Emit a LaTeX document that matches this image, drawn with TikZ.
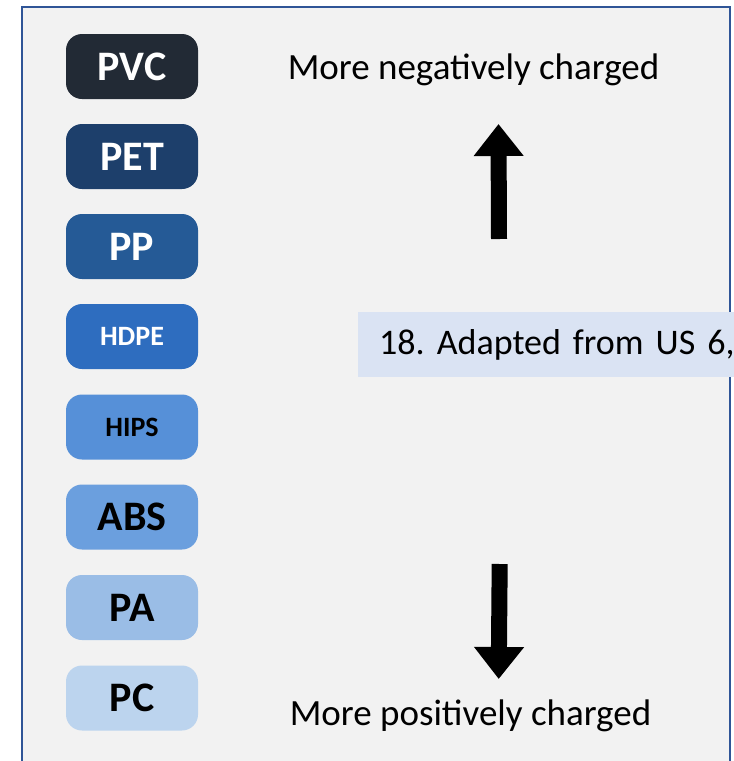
\documentclass[tikz,border=0pt]{standalone}
\usepackage{fontspec}
\setmainfont{Carlito}
\usepackage{xcolor}
\usetikzlibrary{positioning,arrows.meta}
\definecolor{framebg}{HTML}{F2F2F2}
\definecolor{frameline}{HTML}{2F5597}
\definecolor{notebg}{HTML}{DAE3F3}
\definecolor{cPVC}{HTML}{222A35}
\definecolor{cPET}{HTML}{1D3F6B}
\definecolor{cPP}{HTML}{255A96}
\definecolor{cHDPE}{HTML}{2E6DBF}
\definecolor{cHIPS}{HTML}{5690D8}
\definecolor{cABS}{HTML}{6B9FDE}
\definecolor{cPA}{HTML}{9ABDE6}
\definecolor{cPC}{HTML}{BCD4EE}
\tikzset{
  resin/.style={rectangle, rounded corners=16pt, minimum width=132pt, minimum height=65pt, inner sep=0pt, align=center, font=\bfseries\fontsize{42}{48}\selectfont},
  small/.style={font=\bfseries\fontsize{28}{32}\selectfont},
  caption/.style={inner sep=0pt, anchor=base, font=\fontsize{37}{44}\selectfont},
  note/.style={anchor=west, fill=notebg, minimum height=65pt, inner xsep=21pt, inner ysep=0pt, text width=450pt, align=left, font=\fontsize{36}{42}\selectfont\frenchspacing},
  line/.style={line width=16pt, -{Triangle[length=32pt, width=48pt]}}
}

\begin{document}
\begin{tikzpicture}[x=1pt, y=-1pt]
    \useasboundingbox (0,0) rectangle (734,761);
    \clip (0,0) rectangle (734,761);
    \draw[fill=framebg, draw=frameline, line width=2pt] (22,7) rectangle (729.5,790);

    \node[resin, fill=cPVC, text=white] (pvc) at (132,66.5) {PVC};
    \node[resin, fill=cPET, text=white] (pet) at (132,156.5) {PET};
    \node[resin, fill=cPP, text=white] (pp) at (132,246.5) {PP};
    \node[resin, small, fill=cHDPE, text=white] (hdpe) at (132,336.5) {HDPE};
    \node[resin, small, fill=cHIPS, text=black] (hips) at (132,427) {HIPS};
    \node[resin, fill=cABS, text=black] (abs) at (132,517) {ABS};
    \node[resin, fill=cPA, text=black] (pa) at (132,607.5) {PA};
    \node[resin, fill=cPC, text=black] (pc) at (132,698) {PC};

    \node[caption] (neg) at (473.5,79) {More negatively charged};
    \node[caption] (pos) at (470.5,725) {More positively charged};

    \node[note] (ref) at (358,344.5) {\mbox{18. Adapted from US 6,4}};

    \coordinate (uptail) at (499,239);
    \coordinate (uptip) at (498.5,124);
    \coordinate (downtail) at (499.7,564);
    \coordinate (downtip) at (498.7,679);

    \draw[line] (uptail) -- (uptip);
    \draw[line] (downtail) -- (downtip);
\end{tikzpicture}
\end{document}
